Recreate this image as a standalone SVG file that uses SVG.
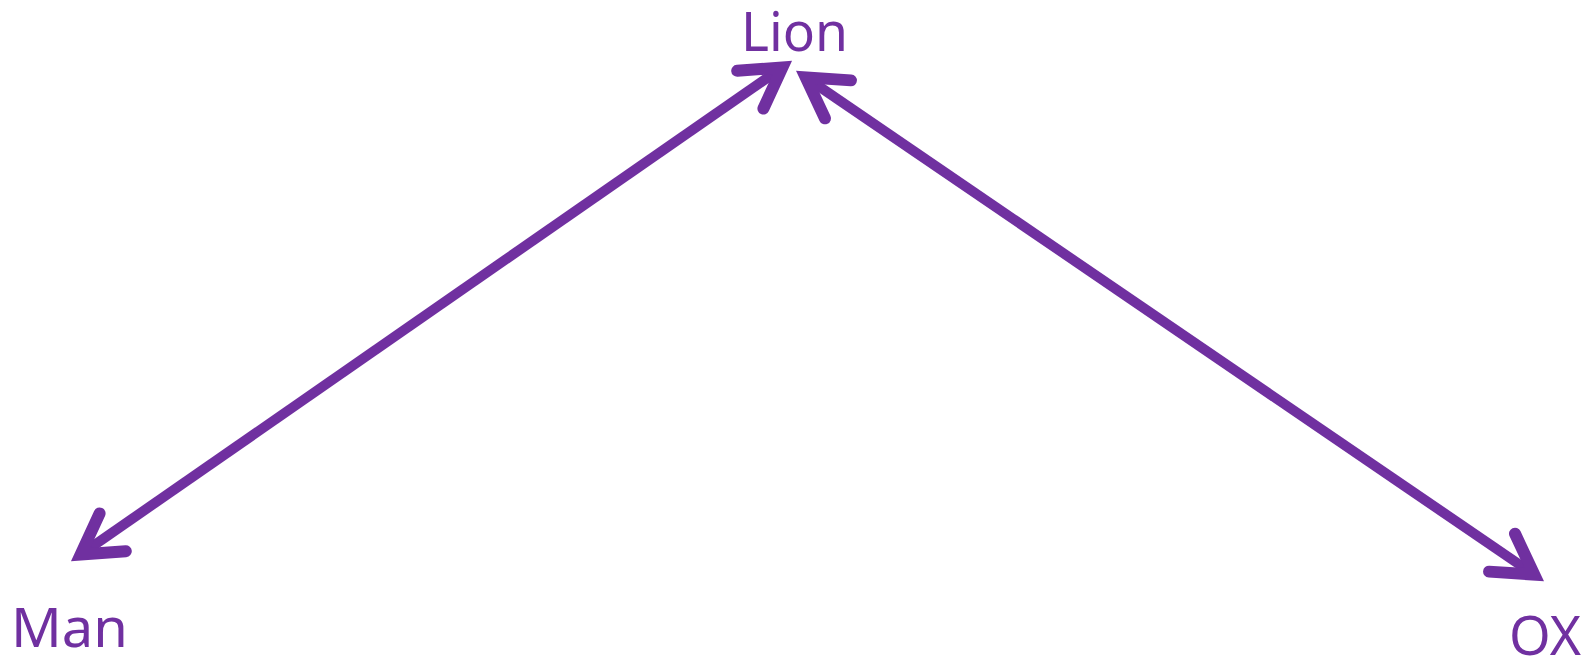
<svg xmlns="http://www.w3.org/2000/svg" width="1591" height="659" viewBox="0 0 1591 659">
<style>
.lbl{font-family:"Noto Sans","Open Sans","Liberation Sans",sans-serif;font-size:54px;fill:#7030A0}
.edge{stroke:#7030A0;stroke-width:10;fill:none}
</style>
<defs>
<marker id="ah" markerUnits="userSpaceOnUse" orient="auto-start-reverse" viewBox="-70 -40 80 80" markerWidth="80" markerHeight="80" refX="-15" refY="0" overflow="visible">
<path d="M -52 -23 L -13 0 L -52 23" fill="none" stroke="#7030A0" stroke-width="12" stroke-linejoin="miter" stroke-miterlimit="10" stroke-linecap="round"/>
</marker>
</defs>
<rect width="1591" height="659" fill="#ffffff"/>
<g id="connectors">
<line class="edge" x1="82.3" y1="553.4" x2="780.7" y2="68.6" marker-start="url(#ah)" marker-end="url(#ah)"/>
<line class="edge" x1="807.4" y1="78.5" x2="1532.6" y2="573.5" marker-start="url(#ah)" marker-end="url(#ah)"/>
</g>
<g id="node-lion"><text class="lbl" x="741" y="51" textLength="107" lengthAdjust="spacingAndGlyphs">Lion</text></g>
<g id="node-man"><text class="lbl" x="11" y="647" textLength="117" lengthAdjust="spacingAndGlyphs">Man</text></g>
<g id="node-ox"><text class="lbl" x="1509" y="655" textLength="72" lengthAdjust="spacingAndGlyphs">OX</text></g>
</svg>
